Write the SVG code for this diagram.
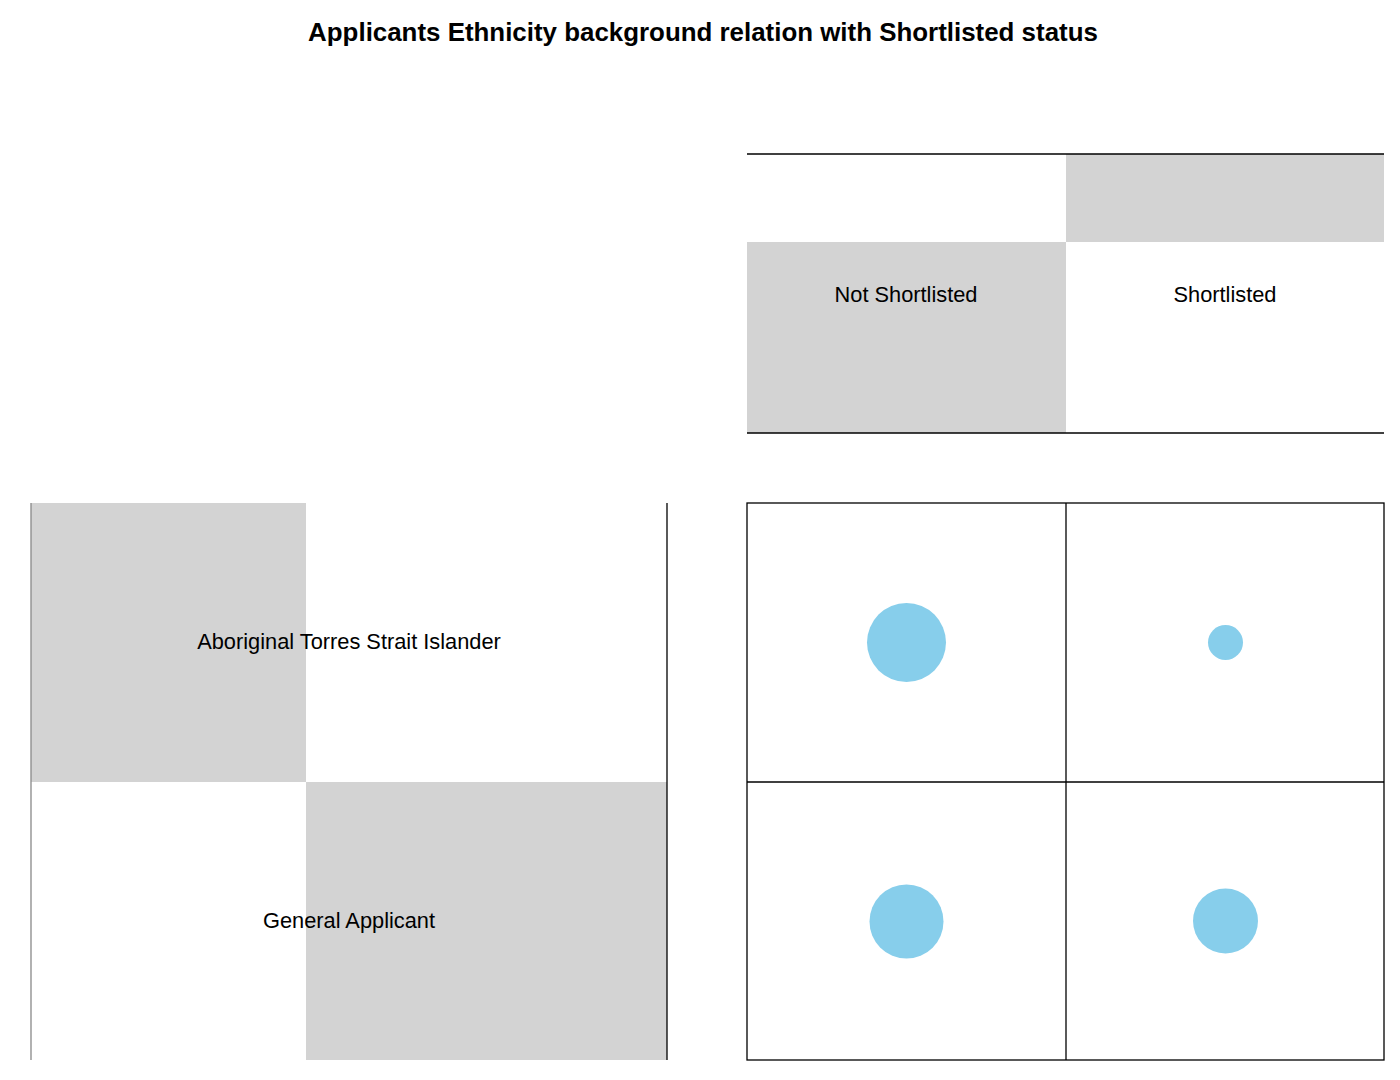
<svg xmlns="http://www.w3.org/2000/svg" width="1400" height="1080" viewBox="0 0 1400 1080">
<style>
.t{font-family:"Liberation Sans",Arial,sans-serif;font-size:21.8px;fill:#000;text-anchor:middle;dominant-baseline:central}
.title{font-family:"Liberation Sans",Arial,sans-serif;font-size:25.9px;font-weight:bold;fill:#000;text-anchor:middle}
.g{fill:#d3d3d3}
.ln{stroke:#000;stroke-width:1.3;fill:none}
.dot{fill:#87ceeb}
</style>
<rect width="1400" height="1080" fill="#fff"/>
<text class="title" x="703" y="41">Applicants Ethnicity background relation with Shortlisted status</text>
<g id="col-header">
<rect class="g" x="747" y="242" width="319" height="191"/>
<rect class="g" x="1066" y="154" width="318" height="88"/>
<line class="ln" x1="747" y1="154" x2="1384" y2="154"/>
<line class="ln" x1="747" y1="433" x2="1384" y2="433"/>
<text class="t" x="906" y="294">Not Shortlisted</text>
<text class="t" x="1225" y="294">Shortlisted</text>
</g>
<g id="row-header">
<rect class="g" x="31" y="503" width="275" height="279"/>
<rect class="g" x="306" y="782" width="361" height="278"/>
<line x1="31" y1="503" x2="31" y2="1060" stroke="#888" stroke-width="1.3"/>
<line class="ln" x1="667" y1="503" x2="667" y2="1060"/>
<text class="t" x="349" y="641">Aboriginal Torres Strait Islander</text>
<text class="t" x="349" y="920">General Applicant</text>
</g>
<g id="grid">
<rect class="ln" x="747" y="503" width="637" height="557"/>
<line class="ln" x1="1066" y1="503" x2="1066" y2="1060"/>
<line class="ln" x1="747" y1="782" x2="1384" y2="782"/>
</g>
<g id="cell-ati-not"><circle class="dot" cx="906.5" cy="642.5" r="39.5"/></g>
<g id="cell-ati-short"><circle class="dot" cx="1225.5" cy="642.5" r="17.5"/></g>
<g id="cell-gen-not"><circle class="dot" cx="906.5" cy="921.5" r="37"/></g>
<g id="cell-gen-short"><circle class="dot" cx="1225.5" cy="921" r="32.5"/></g>
</svg>
